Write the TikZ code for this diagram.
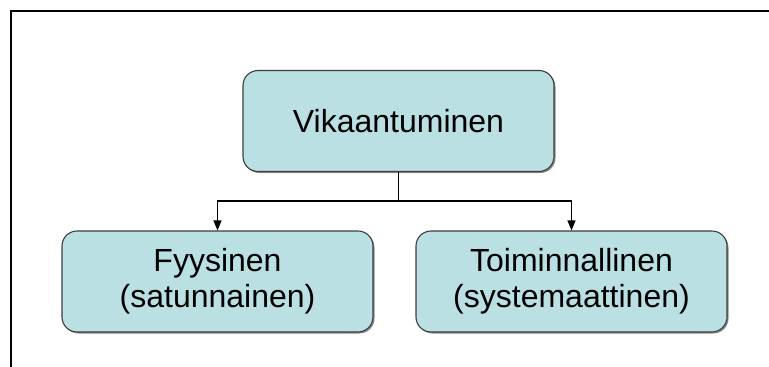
\documentclass[tikz,border=0pt]{standalone}
\usepackage{fontspec}
\setmainfont{Liberation Sans}
\usetikzlibrary{arrows.meta,shadows}
\definecolor{boxfill}{HTML}{BAE0E3}
\definecolor{boxline}{HTML}{3C3C3C}
\begin{document}
\begin{tikzpicture}[x=1pt,y=-1pt,
  catbox/.style={draw=boxline, line width=1.1pt, fill=boxfill, rounded corners=15pt,
    minimum width=311pt, minimum height=101pt, inner sep=0pt, align=center,
    font=\fontsize{32}{36}\selectfont,
    drop shadow={shadow xshift=1.5pt, shadow yshift=-1.5pt, fill=black, opacity=0.45}},
  link/.style={draw=black, line width=1.1pt},
  tip/.style={-{Triangle[width=8pt,length=10pt]}}]
  \useasboundingbox (0,0) rectangle (769,367);
  % frame along the left and top edges
  \draw[line width=2.2pt] (11,367) -- (11,11) -- (769,11);
  % boxes
  \node[catbox] (root) at (398.5,121) {Vikaantuminen};
  \node[catbox] (phys) at (217.5,281.5) {Fyysinen\\(satunnainen)};
  \node[catbox] (func) at (571.5,281.5) {Toiminnallinen\\(systemaattinen)};
  % connectors
  \coordinate (fork) at (398.5,201);
  \draw[link] (root.south) -- (fork);
  \draw[link,tip] (fork) -| (phys.north);
  \draw[link,tip] (fork) -| (func.north);
\end{tikzpicture}
\end{document}
